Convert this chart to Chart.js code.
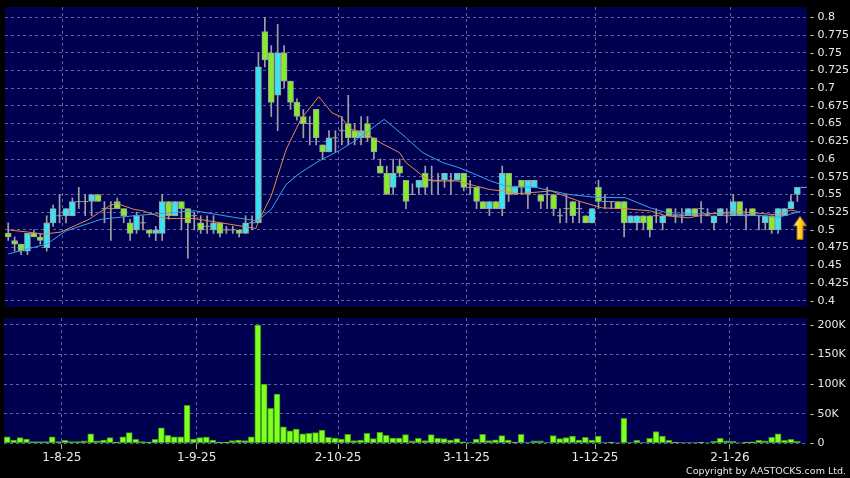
<!DOCTYPE html>
<html>
<head>
<meta charset="utf-8">
<script src="https://cdn.jsdelivr.net/npm/chart.js@4.4.1/dist/chart.umd.min.js"></script>
<style>
  html, body { margin: 0; padding: 0; background: #000; }
  #wrap { position: relative; width: 850px; height: 478px; overflow: hidden; background: #000; }
  #priceChart { position: absolute; left: 0; top: 0; }
  #volChart { position: absolute; left: 0; top: 312px; }
  #copy { position: absolute; right: 4px; top: 465px; font: 9.5px "DejaVu Sans", sans-serif; color: #e6e6e6; white-space: nowrap; }
</style>
</head>
<body>
<div id="wrap">
  <canvas id="priceChart" width="850" height="312"></canvas>
  <canvas id="volChart" width="850" height="166"></canvas>
  <div id="copy">Copyright by AASTOCKS.com Ltd.</div>
</div>
<script>
// Tageskerzen (ein Eintrag pro Handelstag, 21-7-25 bis 19-1-26)
const openP  = [0.495,0.485,0.48,0.47,0.495,0.49,0.475,0.51,0.52,0.52,0.52,0.54,0.54,0.54,0.55,0.53,0.53,0.54,0.53,0.51,
                0.50,0.51,0.50,0.495,0.495,0.54,0.52,0.54,0.53,0.52,0.51,0.505,0.50,0.51,0.50,0.50,0.50,0.495,0.51,0.51,
                0.78,0.75,0.69,0.75,0.71,0.68,0.66,0.65,0.67,0.62,0.61,0.63,0.64,0.65,0.64,0.63,0.65,0.63,0.59,0.58,
                0.56,0.59,0.57,0.55,0.56,0.58,0.57,0.57,0.57,0.57,0.57,0.58,0.56,0.56,0.54,0.53,0.54,0.53,0.58,0.55,
                0.57,0.55,0.56,0.55,0.55,0.55,0.52,0.53,0.54,0.53,0.52,0.51,0.56,0.54,0.54,0.54,0.54,0.51,0.51,0.52,
                0.52,0.52,0.51,0.53,0.52,0.52,0.52,0.53,0.53,0.52,0.51,0.52,0.52,0.52,0.54,0.52,0.53,0.52,0.51,0.52,
                0.50,0.52,0.53,0.55,0.56];
const highP  = [0.51,0.49,0.48,0.495,0.50,0.495,0.52,0.535,0.55,0.53,0.545,0.56,0.55,0.55,0.55,0.54,0.54,0.545,0.53,0.515,
                0.525,0.52,0.50,0.505,0.55,0.54,0.54,0.54,0.53,0.525,0.52,0.52,0.52,0.51,0.505,0.505,0.50,0.52,0.52,0.75,
                0.80,0.76,0.79,0.76,0.71,0.685,0.67,0.66,0.67,0.62,0.64,0.64,0.66,0.69,0.65,0.66,0.66,0.63,0.60,0.59,
                0.60,0.60,0.57,0.565,0.57,0.59,0.59,0.58,0.58,0.58,0.58,0.58,0.57,0.56,0.54,0.54,0.54,0.59,0.58,0.56,
                0.57,0.57,0.57,0.55,0.56,0.55,0.53,0.55,0.54,0.54,0.52,0.53,0.57,0.55,0.54,0.54,0.54,0.52,0.52,0.52,
                0.52,0.53,0.52,0.53,0.53,0.53,0.53,0.53,0.54,0.53,0.52,0.53,0.53,0.55,0.54,0.53,0.53,0.52,0.52,0.52,
                0.53,0.53,0.55,0.56,0.56];
const lowP   = [0.485,0.47,0.465,0.465,0.49,0.48,0.47,0.505,0.51,0.51,0.52,0.53,0.52,0.52,0.54,0.51,0.485,0.53,0.51,0.485,
                0.495,0.50,0.49,0.485,0.485,0.515,0.52,0.50,0.46,0.50,0.495,0.495,0.495,0.49,0.495,0.495,0.49,0.495,0.50,0.51,
                0.73,0.66,0.64,0.70,0.67,0.655,0.63,0.62,0.62,0.60,0.61,0.61,0.62,0.62,0.62,0.62,0.625,0.60,0.58,0.55,
                0.55,0.575,0.53,0.55,0.55,0.55,0.55,0.55,0.56,0.55,0.57,0.555,0.55,0.53,0.53,0.52,0.53,0.52,0.54,0.55,
                0.55,0.53,0.56,0.53,0.53,0.52,0.51,0.51,0.51,0.51,0.51,0.51,0.53,0.53,0.53,0.53,0.49,0.51,0.50,0.50,
                0.49,0.51,0.50,0.52,0.51,0.51,0.52,0.52,0.51,0.52,0.50,0.52,0.51,0.52,0.52,0.50,0.52,0.50,0.50,0.495,
                0.495,0.52,0.53,0.54,0.56];
const closeP = [0.49,0.48,0.47,0.495,0.49,0.485,0.51,0.53,0.52,0.53,0.54,0.54,0.54,0.55,0.54,0.53,0.53,0.53,0.52,0.495,
                0.52,0.51,0.495,0.50,0.54,0.52,0.54,0.53,0.51,0.52,0.50,0.505,0.51,0.495,0.50,0.50,0.495,0.51,0.51,0.73,
                0.74,0.68,0.75,0.71,0.68,0.66,0.65,0.65,0.63,0.61,0.63,0.63,0.64,0.63,0.63,0.64,0.63,0.61,0.58,0.55,
                0.58,0.58,0.54,0.55,0.57,0.56,0.57,0.57,0.58,0.57,0.58,0.56,0.56,0.54,0.53,0.54,0.53,0.58,0.55,0.56,
                0.56,0.57,0.57,0.54,0.55,0.53,0.52,0.53,0.52,0.53,0.51,0.53,0.54,0.54,0.54,0.53,0.51,0.52,0.52,0.51,
                0.50,0.52,0.52,0.52,0.52,0.52,0.53,0.52,0.53,0.52,0.52,0.53,0.52,0.54,0.52,0.52,0.52,0.52,0.52,0.50,
                0.53,0.53,0.54,0.56,0.56];
// Umsatz (Aktien)
const volume = [11000,5600,9600,7300,2800,2800,2800,11000,3000,5000,3000,3000,4000,16000,4000,5600,9600,2000,11000,18000,
                6800,3000,2000,6800,26000,13500,11000,11000,64000,7300,9600,10700,5600,2000,2000,4500,5600,4500,11000,200000,
                100000,59000,83000,28000,21000,24000,16000,17000,18000,22500,10000,9000,7300,15000,4500,5600,17000,8000,18600,13500,
                9000,9000,14600,4000,8500,4500,14600,8500,8000,5600,8000,2300,1000,7300,15000,4500,6000,13000,5600,2000,
                15000,1000,4000,4000,1000,13000,8000,9600,12000,5600,10000,5600,12000,1000,2000,300,42000,1000,5000,1000,
                8500,20000,12000,5000,2000,1000,1000,1000,2000,500,3400,8500,4000,3400,500,2000,2300,5000,4000,10000,
                16000,5000,6800,3400,0];
const maShort = [[0,0.50],[3,0.497],[5.6,0.494],[8.2,0.497],[12.4,0.514],[16,0.535],[17,0.537],[19.6,0.529],[21,0.527],
                 [23.8,0.518],[25,0.516],[29,0.516],[35.2,0.507],[38.6,0.502],[39,0.512],[41,0.548],[43.3,0.613],
                 [45.6,0.656],[48.4,0.688],[50.5,0.665],[51.8,0.66],[53.4,0.642],[56,0.635],[58,0.623],[61,0.609],
                 [62,0.595],[64.6,0.576],[66,0.569],[70,0.569],[72,0.564],[75,0.557],[77,0.555],[79.5,0.551],
                 [84.6,0.555],[88.8,0.541],[92.6,0.531],[96,0.53],[100,0.527],[102.5,0.52],[106,0.517],[109.7,0.523],
                 [113.8,0.526],[117.5,0.523],[120,0.521],[122,0.528],[123,0.526]];
const maLong  = [[0,0.466],[6,0.48],[9,0.4985],[14.5,0.515],[19.6,0.52],[25,0.524],[29,0.527],[35,0.518],[38.6,0.513],
                 [39,0.514],[41,0.529],[43.3,0.564],[45.6,0.581],[48.4,0.597],[51.8,0.613],[53.9,0.625],[58.6,0.656],
                 [61.4,0.635],[64.6,0.609],[67.7,0.595],[70.2,0.588],[72.9,0.578],[75.2,0.569],[77.5,0.562],[82.2,0.56],
                 [87.4,0.55],[91.6,0.546],[96.2,0.5455],[100.1,0.531],[103.5,0.522],[109.7,0.523],[114.9,0.522],
                 [120.1,0.518],[123.5,0.526]];
// Monatsmarken auf der X-Achse
const monthIndex  = [9, 30, 52, 72, 92, 113];
const monthLabels = ['1-8-25', '1-9-25', '2-10-25', '3-11-25', '1-12-25', '2-1-26'];
const priceTicks  = [0.4,0.425,0.45,0.475,0.5,0.525,0.55,0.575,0.6,0.625,0.65,0.675,0.7,0.725,0.75,0.775,0.8];
const volumeTicks = [0, 50000, 100000, 150000, 200000];
const signalPoint = [123.4, 0.503]; // gelber Pfeil

// Farben
const NAVY = '#000050';
const GRID = 'rgba(130,130,180,0.75)';
const UP = '#38e4f0';
const DOWN = '#84ec28';
const EDGE = '#a0a0a0';
const TEXT = '#e8e8e8';

Chart.defaults.font.family = '"DejaVu Sans", sans-serif';
Chart.defaults.color = TEXT;

const panelBg = {
  id: 'panelBg',
  beforeDraw(chart) {
    const a = chart.chartArea, ctx = chart.ctx;
    ctx.save();
    ctx.fillStyle = NAVY;
    ctx.fillRect(a.left, a.top, a.right - a.left, a.bottom - a.top);
    ctx.restore();
  }
};

function makeArrow() {
  const c = document.createElement('canvas');
  c.width = 14; c.height = 24;
  const g = c.getContext('2d');
  const grad = g.createLinearGradient(0, 0, 14, 0);
  grad.addColorStop(0, '#fff48a');
  grad.addColorStop(0.5, '#ffd420');
  grad.addColorStop(1, '#e09800');
  g.beginPath();
  g.moveTo(7, 0.5); g.lineTo(13.5, 10); g.lineTo(10, 10); g.lineTo(10, 23.5);
  g.lineTo(4, 23.5); g.lineTo(4, 10); g.lineTo(0.5, 10); g.closePath();
  g.fillStyle = grad; g.fill();
  g.strokeStyle = '#a86c00'; g.lineWidth = 1; g.stroke();
  return c;
}

const idx = closeP.map((_, i) => i);
const wickData = idx.map(i => ({ x: i, y: [lowP[i], highP[i]] }));
const bodyIdx = idx.filter(i => openP[i] !== closeP[i]);
const bodyData = bodyIdx.map(i => ({ x: i, y: [Math.min(openP[i], closeP[i]), Math.max(openP[i], closeP[i])] }));
const bodyColors = bodyIdx.map(i => closeP[i] > openP[i] ? UP : DOWN);
const dojiData = idx.filter(i => openP[i] === closeP[i]).map(i => ({ x: i, y: closeP[i] }));

function xScale(showLabels) {
  return {
    type: 'linear', min: -0.5, max: closeP.length - 0.5, offset: false,
    afterBuildTicks: s => { s.ticks = monthIndex.map(i => ({ value: i - 0.5 })); },
    afterFit: s => { s.height = showLabels ? 34 : 0; s.paddingLeft = 0; s.paddingRight = 0; },
    grid: { color: GRID, offset: false, drawTicks: showLabels, tickLength: 5, tickColor: '#b0b0b0' },
    border: { display: false, dash: [3, 3] },
    ticks: { display: showLabels, padding: 2, maxRotation: 0, color: TEXT, font: { size: 12 },
             callback: (v, k) => monthLabels[k] }
  };
}

function yScale(min, max, tickList, fmt) {
  return {
    position: 'right', min: min, max: max,
    afterBuildTicks: s => { s.ticks = tickList.map(v => ({ value: v })); },
    afterFit: s => { s.width = 43; s.paddingTop = 0; s.paddingBottom = 0; },
    grid: { color: GRID, drawTicks: false },
    border: { display: false, dash: [3, 3] },
    ticks: { padding: 3, color: TEXT, font: { size: 11 }, callback: v => '- ' + fmt(v) }
  };
}

new Chart(document.getElementById('priceChart'), {
  type: 'bar',
  data: {
    datasets: [
      { type: 'line', data: maShort.map(p => ({ x: p[0], y: p[1] })), borderColor: '#e4884c', borderWidth: 1,
        pointRadius: 0, tension: 0, order: 1 },
      { type: 'line', data: maLong.map(p => ({ x: p[0], y: p[1] })), borderColor: '#3aa2ee', borderWidth: 1,
        pointRadius: 0, tension: 0, order: 1 },
      { type: 'line', data: [{ x: signalPoint[0], y: signalPoint[1] }], showLine: false,
        pointStyle: makeArrow(), order: 0 },
      { type: 'line', data: dojiData, showLine: false, pointStyle: 'line', pointRadius: 3,
        pointBorderColor: EDGE, pointBorderWidth: 1, order: 2 },
      { data: bodyData, backgroundColor: bodyColors, borderColor: EDGE, borderWidth: 1, borderSkipped: false,
        barThickness: 6, grouped: false, order: 2 },
      { data: wickData, backgroundColor: EDGE, borderWidth: 0, barThickness: 1, grouped: false, order: 3 }
    ]
  },
  options: {
    responsive: false, animation: false, devicePixelRatio: 1,
    layout: { padding: { left: 4, right: 0, top: 7, bottom: 4 } },
    plugins: { legend: { display: false }, tooltip: { enabled: false } },
    scales: {
      x: xScale(false),
      y: yScale(0.39114, 0.81461, priceTicks, v => String(parseFloat(v.toFixed(3))))
    }
  },
  plugins: [panelBg]
});

new Chart(document.getElementById('volChart'), {
  type: 'bar',
  data: {
    datasets: [
      { data: idx.map(i => ({ x: i, y: volume[i] })), backgroundColor: '#80ff22', borderColor: '#3f9a12',
        borderWidth: 1, borderSkipped: false, barThickness: 6 }
    ]
  },
  options: {
    responsive: false, animation: false, devicePixelRatio: 1,
    layout: { padding: { left: 4, right: 0, top: 6, bottom: 0 } },
    plugins: { legend: { display: false }, tooltip: { enabled: false } },
    scales: {
      x: xScale(true),
      y: yScale(-1200, 211800, volumeTicks, v => v === 0 ? '0' : (v / 1000) + 'K')
    }
  },
  plugins: [panelBg]
});
</script>
</body>
</html>
